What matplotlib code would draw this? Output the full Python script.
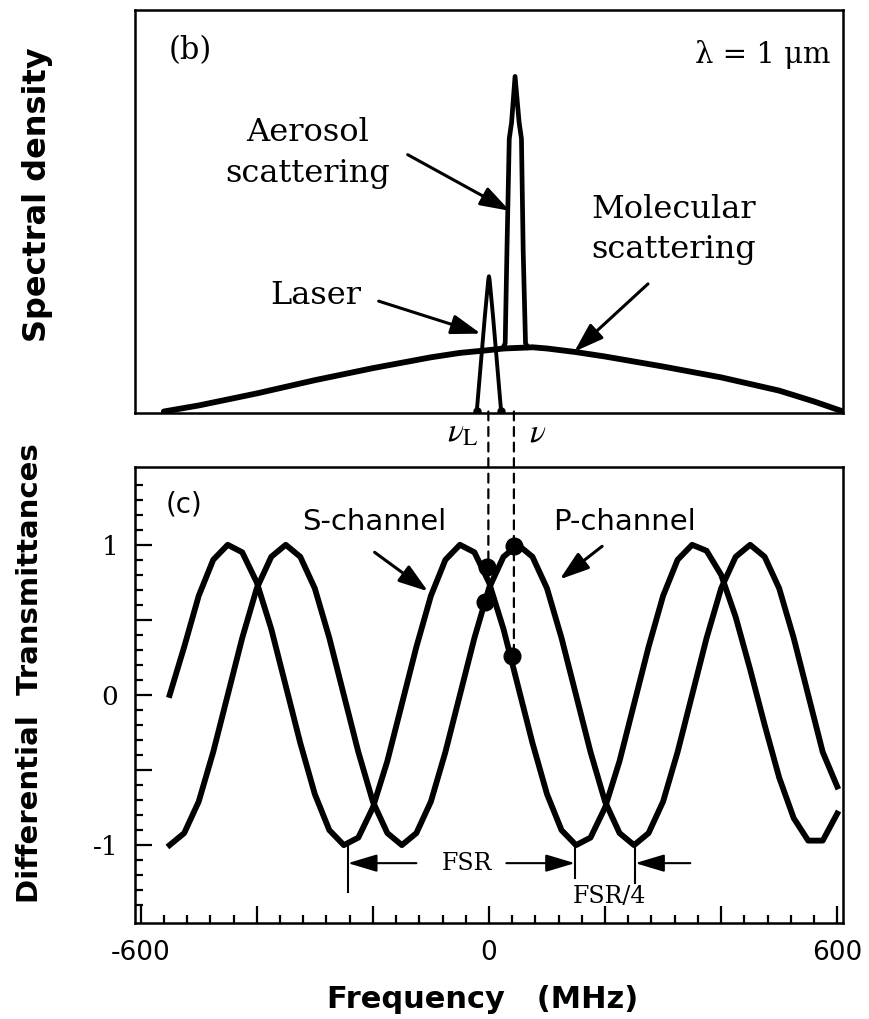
import matplotlib
matplotlib.use("Agg")
import matplotlib.pyplot as plt
from matplotlib.patches import ConnectionPatch
from matplotlib.ticker import FixedLocator, FuncFormatter

plt.rcParams['mathtext.fontset'] = 'stix'

# ---- panel (b): spectral density (arbitrary units) vs frequency (MHz) ----
mol_freq = [-560, -500, -400, -300, -200, -100, -50, 0, 25, 75, 100, 150, 200, 300, 400, 500, 560, 610]
mol_dens = [0.0, 0.015, 0.045, 0.078, 0.108, 0.135, 0.146, 0.153, 0.157, 0.160, 0.157, 0.148,
            0.137, 0.112, 0.085, 0.052, 0.025, 0.0]

aer_freq = [24, 28, 31, 35, 39, 45, 52, 56, 59, 63, 67]
aer_dens = [0.158, 0.17, 0.40, 0.68, 0.72, 0.835, 0.72, 0.68, 0.40, 0.17, 0.160]

laser_freq = [-21, -7, -1, 0, 1, 7, 21]
laser_dens = [0.0, 0.238, 0.33, 0.337, 0.33, 0.238, 0.0]

nu_marks = [-1, 43]          # nu_L, nu

# ---- panel (c): differential transmittances ----
freq = [-550, -525, -500, -475, -450, -425, -400, -375, -350, -325, -300, -275, -250, -225,
        -200, -175, -150, -125, -100, -75, -50, -25, 0, 25, 50, 75, 100, 125, 150, 175,
        200, 225, 250, 275, 300, 325, 350, 375, 400, 425, 450, 475, 500, 525, 550, 575, 600]
s_channel = [0.0, 0.32, 0.66, 0.90, 1.00, 0.95, 0.75, 0.44, 0.06, -0.32, -0.66, -0.90, -1.00, -0.95,
             -0.75, -0.44, -0.06, 0.32, 0.66, 0.90, 1.00, 0.95, 0.75, 0.44, 0.06, -0.32, -0.66,
             -0.90, -1.00, -0.95, -0.75, -0.44, -0.06, 0.32, 0.66, 0.90, 1.00, 0.96, 0.80, 0.52,
             0.17, -0.20, -0.55, -0.82, -0.97, -0.97, -0.79]
p_channel = [-1.00, -0.92, -0.71, -0.38, 0.00, 0.38, 0.71, 0.92, 1.00, 0.92, 0.71, 0.38, 0.00,
             -0.38, -0.71, -0.92, -1.00, -0.92, -0.71, -0.38, 0.00, 0.38, 0.71, 0.92, 1.00, 0.92,
             0.71, 0.38, 0.00, -0.38, -0.71, -0.92, -1.00, -0.92, -0.71, -0.38, 0.00, 0.38, 0.71,
             0.92, 1.00, 0.92, 0.71, 0.38, 0.00, -0.38, -0.61]

dot_freq = [-4, -6, 44, 40]
dot_val = [0.85, 0.62, 0.99, 0.26]

fsr_marks = [-243, 148, 252]     # trough positions used for FSR / FSR/4 brackets

serif = ['DejaVu Serif']
sans = ['DejaVu Sans']

fig = plt.figure(figsize=(8.7, 10.19), dpi=100)
ax_b = fig.add_axes([0.155, 0.595, 0.814, 0.395])
ax_c = fig.add_axes([0.155, 0.094, 0.814, 0.448])

for ax in (ax_b, ax_c):
    for sp in ax.spines.values():
        sp.set_linewidth(1.8)
    ax.set_xlim(-610, 610)

# panel (b)
ax_b.plot(mol_freq, mol_dens, color='k', lw=4.2, solid_capstyle='round')
ax_b.plot(aer_freq, aer_dens, color='k', lw=3.4, solid_joinstyle='round')
ax_b.plot(laser_freq, laser_dens, color='k', lw=2.8, solid_capstyle='round')
ax_b.plot([laser_freq[0], laser_freq[-1]], [0, 0], 'o', color='k', ms=5)
ax_b.set_ylim(-0.003, 1.0)
ax_b.set_xticks([])
ax_b.set_yticks([])

ax_b.text(-515, 0.90, '(b)', family=serif, fontsize=22, ha='center', va='center')
ax_b.text(471, 0.89, 'λ = 1 μm', family=serif, fontsize=21, ha='center', va='center')

arrow = dict(arrowstyle='-|>,head_length=0.9,head_width=0.3', color='k', lw=2.2,
             mutation_scale=20, shrinkA=0, shrinkB=0)
ax_b.annotate('', xy=(36, 0.50), xytext=(-140, 0.64), arrowprops=arrow)
ax_b.annotate('', xy=(-14, 0.194), xytext=(-190, 0.275), arrowprops=arrow)
ax_b.annotate('', xy=(147, 0.149), xytext=(274, 0.318), arrowprops=arrow)

ax_b.text(-312, 0.644, 'Aerosol\nscattering', family=serif, fontsize=23, ha='center',
          va='center', linespacing=1.4)
ax_b.text(318, 0.454, 'Molecular\nscattering', family=serif, fontsize=23, ha='center',
          va='center', linespacing=1.4)
ax_b.text(-298, 0.288, 'Laser', family=serif, fontsize=23, ha='center', va='center')

ax_b.text(-45, -0.05, r'$\nu_{\mathrm{L}}$', fontsize=24, ha='center', va='center', clip_on=False)
ax_b.text(84, -0.05, r'$\nu$', fontsize=24, ha='center', va='center', clip_on=False)

# panel (c)
ax_c.plot(freq, s_channel, color='k', lw=4.2)
ax_c.plot(freq, p_channel, color='k', lw=4.2)
ax_c.plot(dot_freq, dot_val, 'o', color='k', ms=12)
ax_c.set_ylim(-1.52, 1.52)

ax_c.xaxis.set_major_locator(FixedLocator([-600, -400, -200, 0, 200, 400, 600]))
ax_c.xaxis.set_minor_locator(FixedLocator([v for v in range(-600, 601, 40) if v % 200]))
ax_c.xaxis.set_major_formatter(FuncFormatter(lambda v, p: f'{v:.0f}' if v % 600 == 0 else ''))
ax_c.yaxis.set_major_locator(FixedLocator([-1, -0.5, 0, 0.5, 1]))
ax_c.yaxis.set_minor_locator(FixedLocator([i / 10 for i in range(-15, 16) if i % 5]))
ax_c.yaxis.set_major_formatter(FuncFormatter(lambda v, p: f'{v:.0f}' if v in (-1, 0, 1) else ''))
ax_c.tick_params(which='both', direction='in', top=False, right=False, width=1.6)
ax_c.tick_params(which='major', length=12)
ax_c.tick_params(which='minor', length=6)
ax_c.tick_params(axis='x', pad=12)
ax_c.tick_params(axis='y', pad=12)
for lab in ax_c.get_xticklabels():
    lab.set_family(sans)
    lab.set_fontsize(19)
for lab in ax_c.get_yticklabels():
    lab.set_family(serif)
    lab.set_fontsize(19)

ax_c.text(-526, 1.27, '(c)', family=sans, fontsize=20, ha='center', va='center')
ax_c.text(-198, 1.15, 'S-channel', family=sans, fontsize=21, ha='center', va='center')
ax_c.text(234, 1.15, 'P-channel', family=sans, fontsize=21, ha='center', va='center')
ax_c.annotate('', xy=(-105, 0.69), xytext=(-197, 0.95), arrowprops=arrow)
ax_c.annotate('', xy=(122, 0.77), xytext=(195, 0.99), arrowprops=arrow)

# FSR brackets below the troughs
for x0, y1 in zip(fsr_marks, [-1.31, -1.22, -1.25]):
    ax_c.plot([x0, x0], [-1.0, y1], color='k', lw=1.5)
thin = dict(arrowstyle='-|>,head_length=1.0,head_width=0.3', color='k', lw=1.5,
            mutation_scale=18, shrinkA=0, shrinkB=0)
ax_c.annotate('', xy=(fsr_marks[0], -1.12), xytext=(-125, -1.12), arrowprops=thin)
ax_c.annotate('', xy=(fsr_marks[1], -1.12), xytext=(30, -1.12), arrowprops=thin)
ax_c.text(-38, -1.12, 'FSR', family=serif, fontsize=17, ha='center', va='center')
ax_c.annotate('', xy=(fsr_marks[2], -1.12), xytext=(347, -1.12), arrowprops=thin)
ax_c.text(207, -1.34, 'FSR/4', family=serif, fontsize=17, ha='center', va='center')

# dashed guides from the spectrum down to the transmittance curves
for xm, yend in zip(nu_marks, [0.62, 0.26]):
    con = ConnectionPatch(xyA=(xm, 0.0), coordsA=ax_b.transData, xyB=(xm, yend),
                          coordsB=ax_c.transData, color='k', lw=1.6, linestyle=(0, (4, 3)))
    fig.add_artist(con)

fig.text(0.043, 0.809, 'Spectral density', rotation=90, family=sans, fontweight='bold',
         fontsize=23, ha='center', va='center')
fig.text(0.035, 0.339, 'Differential  Transmittances', rotation=90, family=sans,
         fontweight='bold', fontsize=21, ha='center', va='center')
fig.text(0.555, 0.019, 'Frequency   (MHz)', family=sans, fontweight='bold', fontsize=22,
         ha='center', va='center')

fig.savefig('out.png', dpi=100)
